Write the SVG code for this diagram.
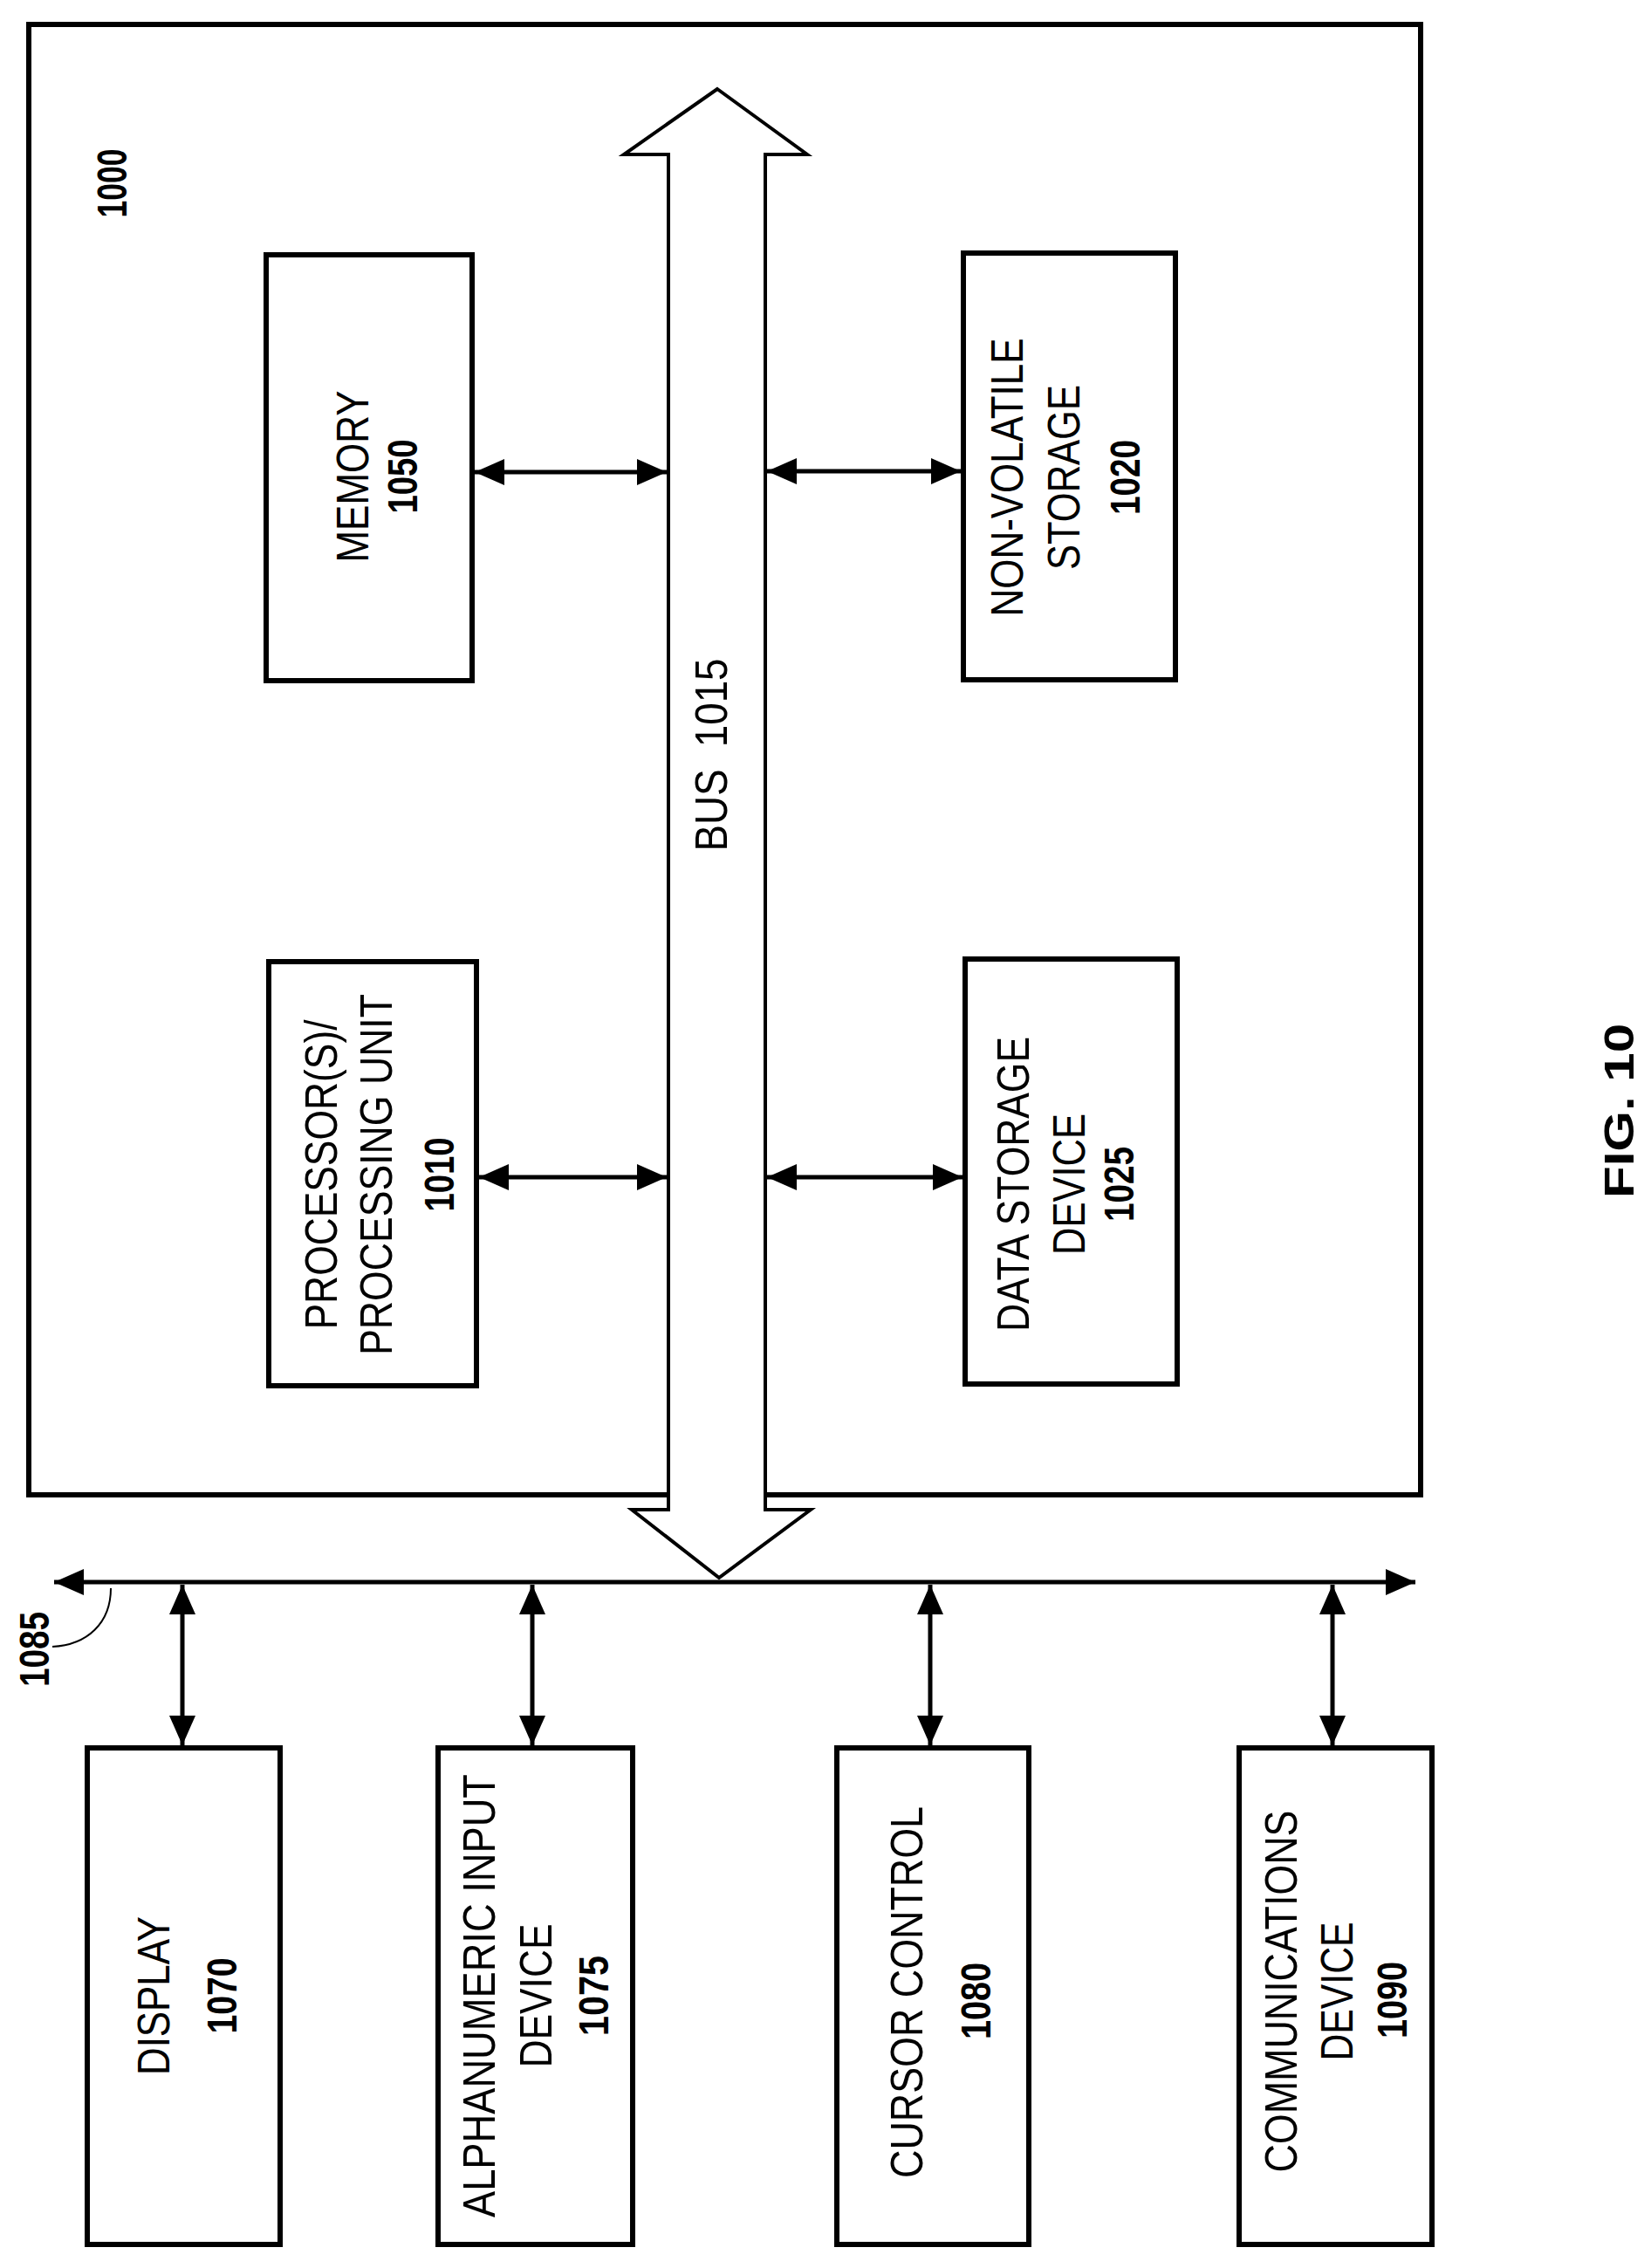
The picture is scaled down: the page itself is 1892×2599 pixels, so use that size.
<svg xmlns="http://www.w3.org/2000/svg" width="1892" height="2599" viewBox="0 0 1892 2599">
<style>
.box{fill:none;stroke:#000;stroke-width:6}
.ln{stroke:#000;stroke-width:5;fill:none}
.t{font-family:"Liberation Sans",Arial,sans-serif;font-size:52px;fill:#000;text-anchor:middle}
.b{font-weight:bold;font-size:48px}
</style>
<defs>
<marker id="ah" markerUnits="userSpaceOnUse" markerWidth="34" markerHeight="34" viewBox="0 0 34 34" refX="34" refY="17" orient="auto-start-reverse">
<path d="M0,2 L34,17 L0,32 Z" fill="#000"/>
</marker>
</defs>
<g id="system-1000">
<path class="box" d="M766,1713 H33 V28 H1628 V1713 H877"/>
<text class="t b" transform="translate(145,210) rotate(-90)" textLength="79" lengthAdjust="spacingAndGlyphs">1000</text>
</g>
<g id="bus-1015">
<polygon points="822,102 925,177 877,177 877,1730 929,1730 824,1808 724,1730 766,1730 766,177 715,177" fill="#fff" stroke="#000" stroke-width="4"/>
<text class="t" transform="translate(833,865) rotate(-90)" font-size="46" textLength="221" lengthAdjust="spacingAndGlyphs" xml:space="preserve">BUS  1015</text>
</g>
<g id="memory-1050">
<rect class="box" x="305" y="292" width="236" height="488"/>
<text class="t" transform="translate(422,546) rotate(-90)" textLength="197" lengthAdjust="spacingAndGlyphs">MEMORY</text>
<text class="t b" transform="translate(478,546) rotate(-90)" textLength="85" lengthAdjust="spacingAndGlyphs">1050</text>
</g>
<g id="nv-storage-1020">
<rect class="box" x="1104" y="290" width="243" height="489"/>
<text class="t" transform="translate(1172,547) rotate(-90)" textLength="319" lengthAdjust="spacingAndGlyphs">NON-VOLATILE</text>
<text class="t" transform="translate(1237,547) rotate(-90)" textLength="212" lengthAdjust="spacingAndGlyphs">STORAGE</text>
<text class="t b" transform="translate(1306,547) rotate(-90)" textLength="86" lengthAdjust="spacingAndGlyphs">1020</text>
</g>
<g id="processor-1010">
<rect class="box" x="308" y="1102" width="238" height="486"/>
<text class="t" transform="translate(386,1346) rotate(-90)" textLength="355" lengthAdjust="spacingAndGlyphs">PROCESSOR(S)/</text>
<text class="t" transform="translate(449,1346) rotate(-90)" textLength="414" lengthAdjust="spacingAndGlyphs">PROCESSING UNIT</text>
<text class="t b" transform="translate(520,1346) rotate(-90)" textLength="85" lengthAdjust="spacingAndGlyphs">1010</text>
</g>
<g id="data-storage-1025">
<rect class="box" x="1106" y="1099" width="243" height="487"/>
<text class="t" transform="translate(1179,1357) rotate(-90)" textLength="338" lengthAdjust="spacingAndGlyphs">DATA STORAGE</text>
<text class="t" transform="translate(1243,1357) rotate(-90)" textLength="162" lengthAdjust="spacingAndGlyphs">DEVICE</text>
<text class="t b" transform="translate(1299,1357) rotate(-90)" textLength="86" lengthAdjust="spacingAndGlyphs">1025</text>
</g>
<g id="display-1070">
<rect class="box" x="100" y="2003" width="221" height="569"/>
<text class="t" transform="translate(194,2287) rotate(-90)" textLength="182" lengthAdjust="spacingAndGlyphs">DISPLAY</text>
<text class="t b" transform="translate(271,2287) rotate(-90)" textLength="87" lengthAdjust="spacingAndGlyphs">1070</text>
</g>
<g id="alnum-1075">
<rect class="box" x="502" y="2003" width="223" height="569"/>
<text class="t" transform="translate(567,2287) rotate(-90)" textLength="508" lengthAdjust="spacingAndGlyphs">ALPHANUMERIC INPUT</text>
<text class="t" transform="translate(632,2287) rotate(-90)" textLength="165" lengthAdjust="spacingAndGlyphs">DEVICE</text>
<text class="t b" transform="translate(697,2287) rotate(-90)" textLength="92" lengthAdjust="spacingAndGlyphs">1075</text>
</g>
<g id="cursor-1080">
<rect class="box" x="959" y="2003" width="220" height="569"/>
<text class="t" transform="translate(1057,2283) rotate(-90)" textLength="426" lengthAdjust="spacingAndGlyphs">CURSOR CONTROL</text>
<text class="t b" transform="translate(1135,2293) rotate(-90)" textLength="88" lengthAdjust="spacingAndGlyphs">1080</text>
</g>
<g id="comm-1090">
<rect class="box" x="1420" y="2003" width="221" height="569"/>
<text class="t" transform="translate(1486,2282) rotate(-90)" textLength="415" lengthAdjust="spacingAndGlyphs">COMMUNICATIONS</text>
<text class="t" transform="translate(1550,2282) rotate(-90)" textLength="159" lengthAdjust="spacingAndGlyphs">DEVICE</text>
<text class="t b" transform="translate(1612,2292) rotate(-90)" textLength="88" lengthAdjust="spacingAndGlyphs">1090</text>
</g>
<g id="bus-1085">
<text class="t b" transform="translate(56,1890) rotate(-90)" font-size="44" textLength="86" lengthAdjust="spacingAndGlyphs">1085</text>
<path d="M60,1887 C100,1885 127,1860 127,1820" fill="none" stroke="#000" stroke-width="2"/>
</g>
<g id="connectors">
<line class="ln" x1="62" y1="1813" x2="1622" y2="1813" marker-start="url(#ah)" marker-end="url(#ah)"/>
<line class="ln" x1="209" y1="1816" x2="209" y2="2000" marker-start="url(#ah)" marker-end="url(#ah)"/>
<line class="ln" x1="610" y1="1816" x2="610" y2="2000" marker-start="url(#ah)" marker-end="url(#ah)"/>
<line class="ln" x1="1066" y1="1816" x2="1066" y2="2000" marker-start="url(#ah)" marker-end="url(#ah)"/>
<line class="ln" x1="1527" y1="1816" x2="1527" y2="2000" marker-start="url(#ah)" marker-end="url(#ah)"/>
<line class="ln" x1="544" y1="541" x2="764" y2="541" marker-start="url(#ah)" marker-end="url(#ah)"/>
<line class="ln" x1="879" y1="540" x2="1101" y2="540" marker-start="url(#ah)" marker-end="url(#ah)"/>
<line class="ln" x1="549" y1="1349" x2="764" y2="1349" marker-start="url(#ah)" marker-end="url(#ah)"/>
<line class="ln" x1="879" y1="1349" x2="1103" y2="1349" marker-start="url(#ah)" marker-end="url(#ah)"/>
</g>
<g id="fig-label">
<text class="t b" transform="translate(1872,1273) rotate(-90)" font-size="74" textLength="200" lengthAdjust="spacingAndGlyphs">FIG. 10</text>
</g>
</svg>
